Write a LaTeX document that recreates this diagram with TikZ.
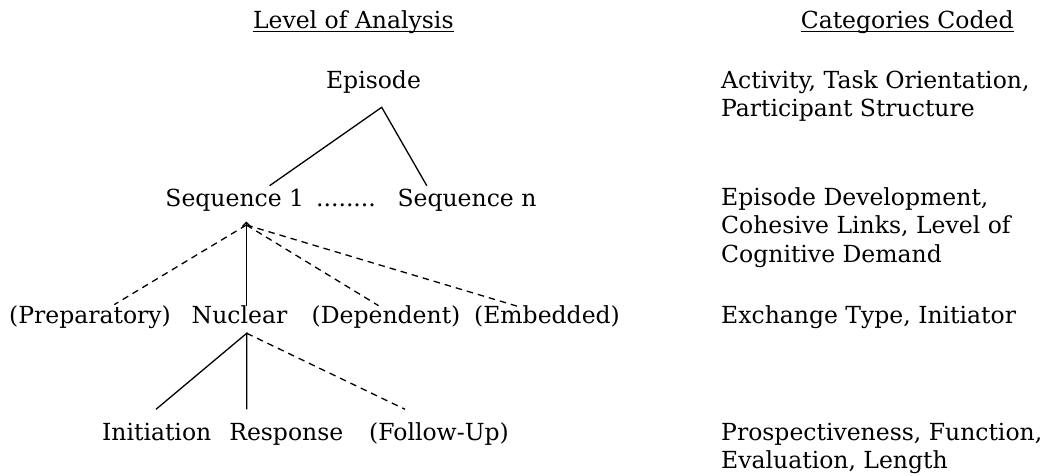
\documentclass[tikz,border=0pt]{standalone}
\usepackage{fontspec}
\setmainfont{DejaVu Serif}
\usetikzlibrary{arrows.meta}
\begin{document}
\begin{tikzpicture}[x=1pt,y=-1pt,
  lbl/.style={inner sep=0pt, anchor=base, font=\fontsize{23.5}{28.4}\selectfont},
  cat/.style={inner sep=0pt, anchor=base west, font=\fontsize{23.5}{28.4}\selectfont},
  solidln/.style={line width=1.3pt},
  dashln/.style={line width=1.3pt, dash pattern=on 6.5pt off 5pt},
  uline/.style={line width=1.4pt}]
\useasboundingbox (0,0) rectangle (1049,476);
% headings
\node[lbl] (h1) at (353.3,29) {Level of Analysis};
\node[lbl] (h2) at (907.2,29) {Categories Coded};
\draw[uline] ([yshift=-2.8pt]h1.base west) -- ([yshift=-2.8pt]h1.base east);
\draw[uline] ([yshift=-2.8pt]h2.base west) -- ([yshift=-2.8pt]h2.base east);
% tree labels
\node[lbl] (ep) at (373.5,88.3) {Episode};
\node[lbl] (seq1) at (234.8,206.5) {Sequence 1};
\node[lbl] (dots) at (346,206.5) {........};
\node[lbl] (seqn) at (467,206.5) {Sequence n};
\node[lbl] (prep) at (90,323.3) {(Preparatory)};
\node[lbl] (nuc) at (239.5,323.3) {Nuclear};
\node[lbl] (dep) at (386,323.3) {(Dependent)};
\node[lbl] (emb) at (547,323.3) {(Embedded)};
\node[lbl] (init) at (156.7,440) {Initiation};
\node[lbl] (resp) at (286.3,440) {Response};
\node[lbl] (fol) at (439,440) {(Follow-Up)};
% junction coordinates
\coordinate (epJ) at (381.7,107.3);
\coordinate (s1L) at (269.6,185.7);
\coordinate (snR) at (426.8,185.7);
\coordinate (s1J) at (246.4,221.5);
\coordinate (s1D) at (246.4,225);
\coordinate (prT) at (114.3,304.6);
\coordinate (nuT) at (246.4,306.4);
\coordinate (deT) at (378.6,305.7);
\coordinate (emT) at (517.9,306.4);
\coordinate (nuJ) at (246.7,333.3);
\coordinate (inT) at (156,409.3);
\coordinate (reT) at (246.7,409.3);
\coordinate (foT) at (405,409.3);
% connectors
\draw[solidln] (s1L) -- (epJ) -- (snR);
\draw[solidln, -{Straight Barb[length=4pt,width=8pt]}] (nuT) -- (s1J);
\draw[dashln] (s1D) -- (prT);
\draw[dashln] (s1D) -- (deT);
\draw[dashln] (s1D) -- (emT);
\draw[solidln] (inT) -- (nuJ) -- (reT);
\draw[dashln] (nuJ) -- (foT);
% categories
\node[cat] (c1a) at (721,88.3) {Activity, Task Orientation,};
\node[cat] (c1b) at (721,116.7) {Participant Structure};
\node[cat] (c2a) at (721,205) {Episode Development,};
\node[cat] (c2b) at (721,233.5) {Cohesive Links, Level of};
\node[cat] (c2c) at (721,262) {Cognitive Demand};
\node[cat] (c3a) at (721,323.3) {Exchange Type, Initiator};
\node[cat] (c4a) at (721,440) {Prospectiveness, Function,};
\node[cat] (c4b) at (721,468.3) {Evaluation, Length};
\end{tikzpicture}
\end{document}
